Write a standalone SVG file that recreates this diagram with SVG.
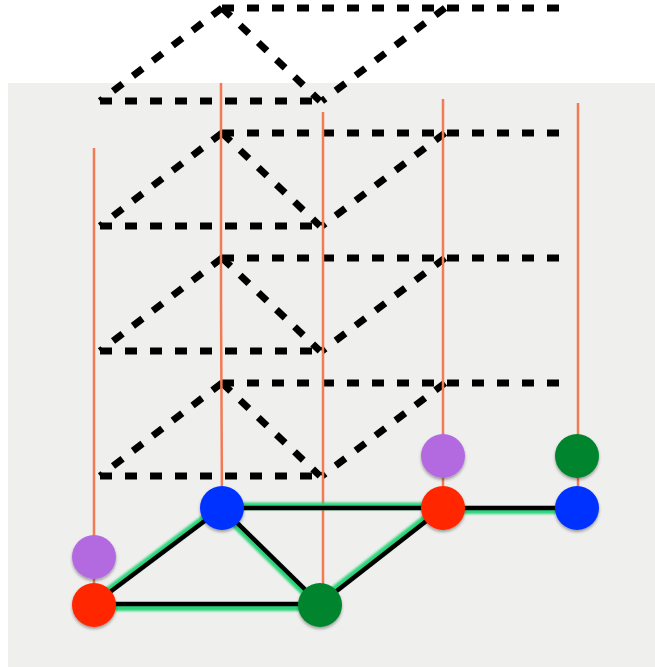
<svg xmlns="http://www.w3.org/2000/svg" width="655" height="667" viewBox="0 0 655 667">
<defs>
<filter id="sh" x="-50%" y="-50%" width="200%" height="200%">
<feDropShadow dx="0" dy="2" stdDeviation="1.8" flood-color="#000" flood-opacity="0.35"/>
</filter>
<filter id="blur" x="-10%" y="-50%" width="120%" height="200%"><feGaussianBlur stdDeviation="0.8"/></filter>
</defs>
<style>
.dash{stroke:#000;stroke-width:7;stroke-dasharray:12 13;fill:none}
.wire{stroke:#f27a55;stroke-width:2.5;fill:none}
.glow{stroke:#2bd57a;stroke-width:7;fill:none;stroke-linecap:round}
.edge{stroke:#000;stroke-width:4.5;fill:none}
.purple{fill:#b36be0}
.red{fill:#ff2600}
.blue{fill:#0033ff}
.green{fill:#02852d}
</style>
<rect x="0" y="0" width="655" height="667" fill="#ffffff"/>
<rect x="8" y="83" width="647" height="584" fill="#efefed"/>

<g id="layers">
<g id="layer0">
<path class="dash" d="M222 8H563"/>
<path class="dash" d="M100 101H320"/>
<path class="dash" d="M222 8L100 101"/>
<path class="dash" d="M222 8L320 101"/>
<path class="dash" d="M445 8L322 101"/>
</g>
<g id="layer1">
<path class="dash" d="M222 133H563"/>
<path class="dash" d="M100 226H320"/>
<path class="dash" d="M222 133L100 226"/>
<path class="dash" d="M222 133L320 226"/>
<path class="dash" d="M445 133L322 226"/>
</g>
<g id="layer2">
<path class="dash" d="M222 258H563"/>
<path class="dash" d="M100 351H320"/>
<path class="dash" d="M222 258L100 351"/>
<path class="dash" d="M222 258L320 351"/>
<path class="dash" d="M445 258L322 351"/>
</g>
<g id="layer3">
<path class="dash" d="M222 383H563"/>
<path class="dash" d="M100 476H320"/>
<path class="dash" d="M222 383L100 476"/>
<path class="dash" d="M222 383L320 476"/>
<path class="dash" d="M445 383L322 476"/>
</g>
</g>

<g id="wires">
<path class="wire" d="M94 148V604"/>
<path class="wire" d="M221 83V300L222 508"/>
<path class="wire" d="M323 112V604"/>
<path class="wire" d="M443 99V508"/>
<path class="wire" d="M578 103V508"/>
</g>

<g id="connectors">
<g filter="url(#blur)">
<path class="glow" d="M92.5 602L220.5 506"/>
<path class="glow" d="M94 607.5H320"/>
<path class="glow" d="M220 510L318 606"/>
<path class="glow" d="M222 506H443"/>
<path class="glow" d="M318 602L441 506"/>
<path class="glow" d="M443 510.5H577"/>
</g>
<path class="edge" d="M94 604L222 508"/>
<path class="edge" d="M94 604H320"/>
<path class="edge" d="M222 508L320 604"/>
<path class="edge" d="M222 508H443"/>
<path class="edge" d="M320 604L443 508"/>
<path class="edge" d="M443 508H577"/>
</g>

<g id="n-purple1"><circle class="purple" cx="94" cy="557" r="22" filter="url(#sh)"/></g>
<g id="n-red1"><circle class="red" cx="94" cy="605" r="22" filter="url(#sh)"/></g>
<g id="n-blue1"><circle class="blue" cx="222" cy="508" r="22" filter="url(#sh)"/></g>
<g id="n-green1"><circle class="green" cx="320" cy="605" r="22" filter="url(#sh)"/></g>
<g id="n-purple2"><circle class="purple" cx="443" cy="456" r="22" filter="url(#sh)"/></g>
<g id="n-red2"><circle class="red" cx="443" cy="508" r="22" filter="url(#sh)"/></g>
<g id="n-green2"><circle class="green" cx="577" cy="456" r="22" filter="url(#sh)"/></g>
<g id="n-blue2"><circle class="blue" cx="577" cy="508" r="22" filter="url(#sh)"/></g>
</svg>
